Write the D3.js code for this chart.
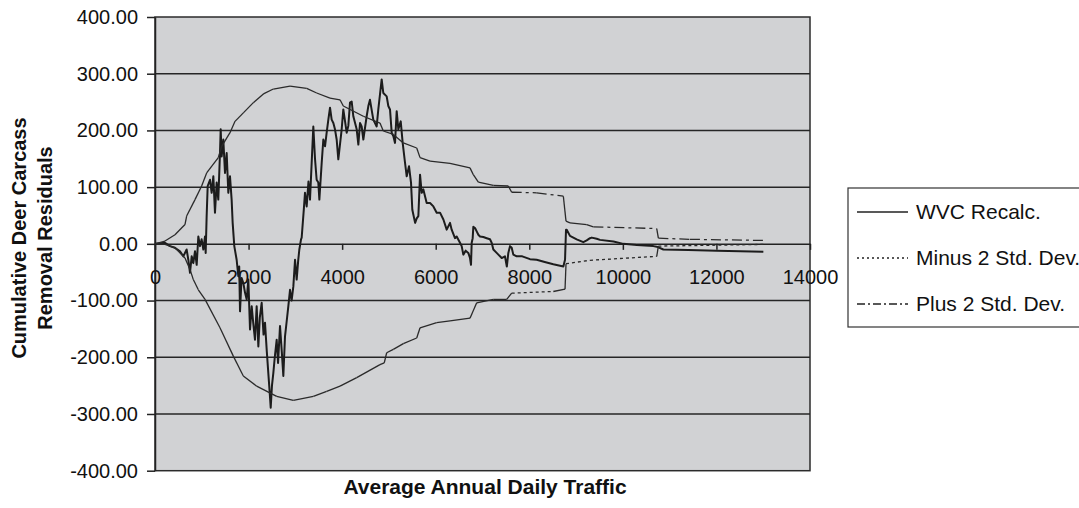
<!DOCTYPE html>
<html>
<head>
<meta charset="utf-8">
<script src="https://cdn.jsdelivr.net/npm/d3@7"></script>
<style>
  body { margin: 0; background: #fff; }
  svg { display: block; }
  text { font-family: "Liberation Sans", Arial, Helvetica, sans-serif; fill: #111; }
</style>
</head>
<body>
<svg id="chart"></svg>
<script>
// axis ticks
var xTicks = [0, 2000, 4000, 6000, 8000, 10000, 12000, 14000];
var yTicks = [-400, -300, -200, -100, 0, 100, 200, 300, 400];

// [AADT, cumulative residual]
var wvcRecalc = [
  [0, 0], [214, 2], [320, -4], [427, -7], [534, -13], [605, -22], [676, -10], [712, -28],
  [748, -51], [784, -22], [819, -34], [855, -13], [891, -37], [926, 13], [962, -4], [997, 8],
  [1033, -10], [1069, 13], [1083, -16], [1104, 49], [1126, 102], [1176, 113], [1211, 90],
  [1247, 119], [1282, 55], [1318, 108], [1353, 78], [1389, 160], [1404, 202], [1425, 154],
  [1460, 184], [1496, 125], [1532, 160], [1567, 90], [1603, 119], [1638, 78], [1660, 37],
  [1695, -4], [1745, -28], [1781, -57], [1800, -40], [1817, -119], [1850, -60], [1888, -69],
  [1924, -86], [1960, -98], [1995, -63], [2031, -151], [2067, -110], [2100, -140], [2137, -169],
  [2173, -110], [2209, -181], [2240, -130], [2280, -104], [2320, -160], [2351, -139], [2390, -190],
  [2422, -228], [2450, -260], [2473, -289], [2500, -250], [2529, -228], [2560, -200], [2601, -169],
  [2630, -210], [2672, -145], [2710, -190], [2743, -233], [2779, -163], [2810, -140], [2850, -110],
  [2886, -81], [2920, -100], [2957, -75], [2993, -28], [3028, -63], [3060, -30], [3085, -10],
  [3121, 8], [3135, 11], [3180, 60], [3206, 90], [3242, 66], [3280, 110], [3313, 78], [3384, 207],
  [3420, 150], [3455, 113], [3491, 108], [3513, 78], [3563, 143], [3598, 184], [3634, 172],
  [3669, 196], [3705, 219], [3741, 240], [3776, 219], [3812, 213], [3847, 202], [3883, 184],
  [3918, 149], [3990, 202], [4025, 237], [4097, 196], [4132, 208], [4168, 249], [4204, 251],
  [4239, 225], [4311, 202], [4346, 175], [4382, 213], [4417, 207], [4453, 184], [4524, 225],
  [4560, 243], [4595, 254], [4666, 219], [4738, 207], [4773, 237], [4845, 290], [4880, 266],
  [4952, 260], [4987, 243], [5023, 237], [5059, 196], [5094, 190], [5130, 178], [5166, 234],
  [5201, 202], [5252, 216], [5294, 178], [5344, 143], [5380, 119], [5429, 137], [5472, 108],
  [5500, 60], [5560, 37], [5594, 45], [5629, 49], [5665, 122], [5700, 90], [5736, 96],
  [5807, 72], [5879, 72], [5950, 66], [6021, 55], [6092, 55], [6164, 43], [6235, 25],
  [6306, 37], [6341, 25], [6412, 10], [6448, 13], [6519, 2], [6555, -4], [6590, -19],
  [6640, -12], [6697, -16], [6733, -25], [6754, -37], [6769, 2], [6790, 10], [6804, 30],
  [6840, 28], [6876, 22], [6911, 16], [6947, 13], [7018, 12], [7090, 10], [7160, 8], [7196, 2],
  [7232, -10], [7303, -16], [7339, -19], [7410, -25], [7480, -22], [7520, -40], [7552, -16],
  [7588, -4], [7624, -7], [7659, -19], [7731, -22], [7850, -22], [8015, -27], [8158, -28],
  [8330, -32], [8514, -36], [8728, -40], [8764, -28], [8785, 25], [8800, 25], [8870, 14],
  [9013, 8], [9155, 3], [9227, 6], [9298, 10], [9334, 11], [9441, 9], [9512, 7], [9800, 4],
  [10010, 0], [10300, -2], [10652, -4], [10724, -5], [10866, -10], [11400, -11], [12006, -12],
  [13003, -14]
];

var minus2sd = [
  [0, 0], [214, -1], [427, -7], [641, -25], [748, -45], [819, -63], [926, -81], [1069, -98],
  [1389, -148], [1674, -198], [1888, -233], [2173, -251], [2601, -269], [2957, -276],
  [3385, -269], [3669, -260], [3955, -251], [4311, -236], [4809, -213], [4900, -210],
  [4952, -192], [5094, -186], [5308, -176], [5594, -166], [5665, -148], [6021, -139],
  [6306, -136], [6733, -131], [6876, -104], [7232, -98], [7517, -98], [7624, -87],
  [8514, -84], [8764, -80], [8785, -35], [9298, -29], [10724, -22], [10759, -4], [13003, -1]
];

var plus2sd = [
  [0, 0], [214, 5], [427, 16], [641, 34], [676, 49], [855, 78], [997, 102], [1104, 125],
  [1353, 152], [1425, 172], [1603, 196], [1710, 216], [1888, 231], [2102, 249], [2329, 265],
  [2529, 273], [2886, 278], [3242, 274], [3456, 266], [3741, 257], [3955, 254], [4025, 243],
  [4453, 225], [4809, 213], [4880, 199], [5094, 193], [5308, 178], [5594, 169], [5665, 152],
  [5879, 146], [6306, 142], [6733, 134], [6804, 122], [6911, 109], [7232, 103], [7552, 102],
  [7624, 91], [8158, 90], [8728, 84], [8785, 40], [8870, 37], [9227, 34], [9370, 30],
  [10724, 27], [10759, 10], [11434, 8], [13003, 6]
];

var seriesNames = ["WVC Recalc.", "Minus 2 Std. Dev.", "Plus 2 Std. Dev."];

var width = 1079, height = 508;
var plot = { left: 155, right: 810, top: 17, bottom: 470.7 };

var svg = d3.select("#chart")
    .attr("width", width)
    .attr("height", height);

var x = d3.scaleLinear().domain([0, 14000]).range([plot.left, plot.right]);
var y = d3.scaleLinear().domain([-400, 400]).range([plot.bottom, plot.top]);

// plot background
svg.append("rect")
    .attr("x", plot.left).attr("y", plot.top)
    .attr("width", plot.right - plot.left).attr("height", plot.bottom - plot.top)
    .attr("fill", "#d1d2d4")
    .attr("stroke", "#2b2b2b")
    .attr("stroke-width", 1.5);

// gridlines
svg.append("g")
    .selectAll("line")
    .data(yTicks.filter(function (d) { return d !== 0 && Math.abs(d) !== 400; }))
    .join("line")
    .attr("x1", plot.left).attr("x2", plot.right)
    .attr("y1", function (d) { return y(d); })
    .attr("y2", function (d) { return y(d); })
    .attr("stroke", "#262626")
    .attr("stroke-width", 1.5);

// y axis (plain hyphen for negatives, like the original)
var yAxis = svg.append("g")
    .attr("transform", "translate(" + plot.left + ",0)")
    .call(d3.axisLeft(y).tickValues(yTicks).tickFormat(function (d) { return d.toFixed(2); })
        .tickSize(8).tickSizeOuter(0).tickPadding(9));
yAxis.selectAll("path, line").attr("stroke", "#222").attr("stroke-width", 1.5);
yAxis.selectAll("text").attr("font-size", 20).attr("font-family", null).attr("fill", "#111");

// x axis sits on the zero line
var xAxis = svg.append("g")
    .attr("transform", "translate(0," + y(0) + ")")
    .call(d3.axisBottom(x).tickValues(xTicks).tickFormat(function (d) { return String(d); })
        .tickSize(6).tickSizeOuter(0).tickPadding(20));
xAxis.selectAll("path, line").attr("stroke", "#222").attr("stroke-width", 1.5);
xAxis.selectAll("text").attr("font-size", 20).attr("font-family", null).attr("fill", "#111");

// WVC line
var line = d3.line()
    .x(function (d) { return x(d[0]); })
    .y(function (d) { return y(d[1]); });

svg.append("path")
    .datum(wvcRecalc)
    .attr("fill", "none")
    .attr("stroke", "#1c1c1c")
    .attr("stroke-width", 2)
    .attr("stroke-linejoin", "round")
    .attr("d", line);

// envelopes: dash pattern only shows on the long flat stretches where data is sparse
function drawEnvelope(data, dash) {
    var segs = d3.pairs(data);
    svg.append("g")
        .selectAll("line")
        .data(segs)
        .join("line")
        .attr("x1", function (d) { return x(d[0][0]); })
        .attr("y1", function (d) { return y(d[0][1]); })
        .attr("x2", function (d) { return x(d[1][0]); })
        .attr("y2", function (d) { return y(d[1][1]); })
        .attr("stroke", "#2a2a2a")
        .attr("stroke-width", 1.3)
        .attr("stroke-dasharray", function (d) {
            return (x(d[1][0]) - x(d[0][0])) > 24 ? dash : null;
        });
}
drawEnvelope(minus2sd, "3,3");
drawEnvelope(plus2sd, "10,4,3,4");

// axis titles
svg.append("text")
    .attr("x", 485).attr("y", 494)
    .attr("text-anchor", "middle")
    .attr("font-size", 21).attr("font-weight", "bold")
    .text("Average Annual Daily Traffic");

var yTitle = svg.append("text")
    .attr("transform", "translate(0,238) rotate(-90)")
    .attr("text-anchor", "middle")
    .attr("font-size", 20).attr("font-weight", "bold");
yTitle.append("tspan").attr("x", 0).attr("y", 26).text("Cumulative Deer Carcass");
yTitle.append("tspan").attr("x", 0).attr("y", 52).text("Removal Residuals");

// legend
var legend = svg.append("g");
legend.append("rect")
    .attr("x", 848).attr("y", 188)
    .attr("width", 260).attr("height", 139)
    .attr("fill", "#fff")
    .attr("stroke", "#333")
    .attr("stroke-width", 1.2);

var legendDash = [null, "2,3", "8,3,2,3"];
var legendY = [212, 258, 304];
var items = legend.selectAll("g.item")
    .data(seriesNames)
    .join("g")
    .attr("class", "item")
    .attr("transform", function (d, i) { return "translate(0," + legendY[i] + ")"; });

items.append("line")
    .attr("x1", 857).attr("x2", 908)
    .attr("stroke", "#222")
    .attr("stroke-width", 1.3)
    .attr("stroke-dasharray", function (d, i) { return legendDash[i]; });

items.append("text")
    .attr("x", 916).attr("y", 7)
    .attr("font-size", 21)
    .text(function (d) { return d; });
</script>
</body>
</html>
